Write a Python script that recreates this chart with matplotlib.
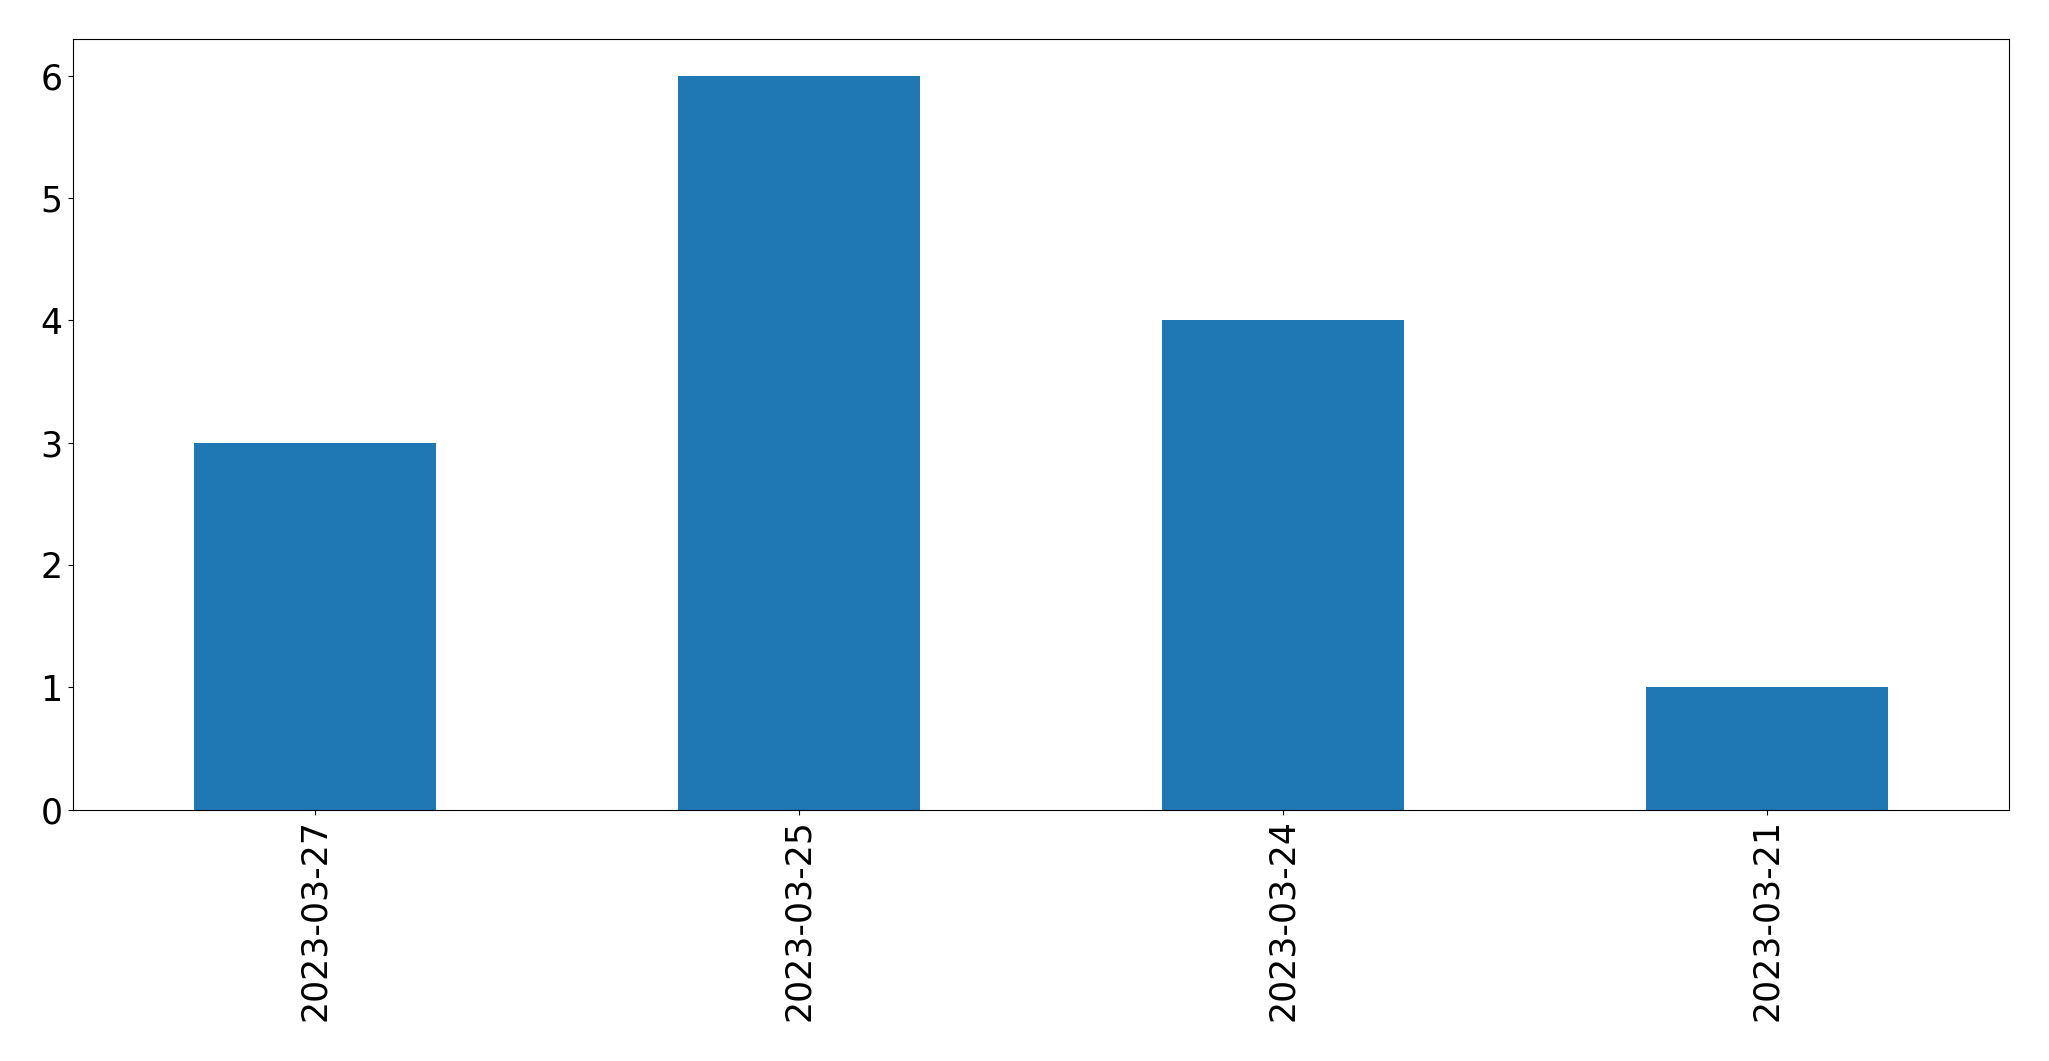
import matplotlib
matplotlib.use("Agg")
import matplotlib.pyplot as plt
import numpy as np

# ----------------------------------------------------
# Data
# ----------------------------------------------------

dates = ["2023-03-27", "2023-03-25", "2023-03-24", "2023-03-21"]
counts = [3, 6, 4, 1]

# ----------------------------------------------------
# Plot
# ----------------------------------------------------

fig = plt.figure(figsize=(20.49, 10.61), dpi=100)
ax = fig.add_axes([72.5 / 2049, 1 - 809.5 / 1061, (2009 - 72.5) / 2049, (809.5 - 39.3) / 1061])

x = np.arange(len(dates))
ax.bar(x, counts, width=0.5, color="#1f77b4")

ax.set_xlim(-0.5, len(dates) - 0.5)
ax.set_ylim(0, max(counts) * 1.05)
ax.set_xticks(x)
ax.set_xticklabels(dates, rotation=90)
ax.tick_params(labelsize=25)

fig.savefig("out.png", dpi=100)
